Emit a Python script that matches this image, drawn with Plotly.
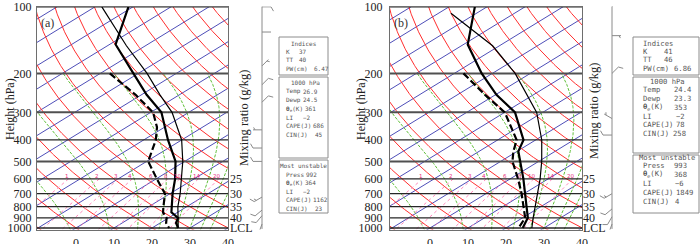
import numpy as np
import plotly.graph_objects as go

S = 95.0          # skew (degC per decade of pressure)
W, H = 700, 244
PXDEC = 221.5     # pixels per decade of pressure on the y axis

# ---------------- data : panel (a) ----------------
a_t_p  = [100, 148, 200, 250, 300, 400, 500, 600, 700, 800, 850, 900, 950, 1000]
a_t    = [-81.2, -68.4, -51.3, -38.6, -27.2, -13.6, -2.4, 5.0, 10.7, 16.0, 18.4, 22.5, 24.2, 26.9]
a_td_p = [200, 250, 300, 350, 400, 450, 500, 600, 700, 800, 850, 900, 950, 1000]
a_td   = [-57.5, -41.5, -29.4, -22.0, -16.8, -12.9, -9.6, 0.2, 8.7, 13.8, 16.2, 19.5, 21.6, 24.5]
a_pc_p = [100, 150, 200, 250, 300, 400, 500, 600, 700, 800, 900, 1000]
a_pc   = [-88.2, -65.0, -47.7, -35.1, -24.4, -10.0, -0.5, 6.7, 12.7, 17.6, 22.5, 26.9]
a_wp = [100, 130, 185, 225, 270, 360, 435, 500, 725, 830, 880, 960]
a_wd = [90, 90, 45, 45, 45, 270, 270, 270, 240, 230, 220, 200]
a_ws = [10, 0, 5, 10, 10, 5, 10, 10, 15, 10, 10, 5]

# ---------------- data : panel (b) ----------------
b_t_p  = [100, 148, 200, 250, 300, 400, 450, 500, 600, 700, 800, 900, 1000]
b_t    = [-83.2, -68.9, -52.8, -39.7, -27.3, -13.2, -9.7, -4.9, 3.5, 10.3, 16.2, 21.4, 24.4]
b_td_p = [200, 250, 300, 400, 450, 500, 600, 700, 800, 900, 1000]
b_td   = [-57.6, -42.7, -30.0, -15.0, -11.0, -6.9, 2.1, 9.4, 15.4, 20.7, 23.3]
b_pc_p = [107, 150, 200, 250, 300, 400, 500, 600, 700, 800, 900, 1000]
b_pc   = [-86.7, -61.8, -44.0, -31.7, -21.6, -8.4, 0.8, 7.9, 13.5, 18.4, 22.8, 26.8]
b_wp = [100, 135, 200, 320, 380, 700, 820, 890, 960]
b_wd = [45, 90, 45, 300, 270, 240, 230, 210, 200]
b_ws = [15, 5, 10, 5, 10, 15, 10, 10, 5]

# ---------------- background line sets ----------------
isotherms = list(range(-130, 50, 10))            # degC
dry_theta = list(range(-40, 200, 10))            # theta in degC (K - 273.15)
moist_thetae = [260, 280, 300, 320, 340, 360, 380, 400, 420]   # K
mix_vals = [1, 2, 3, 4, 6, 8, 10, 14, 20]        # g/kg

# ---------------- text ----------------
p_ticks = [100, 200, 300, 400, 500, 600, 700, 800, 900, 1000]
p_heavy = [200, 300, 500]
t_ticks = [0, 10, 20, 30, 40]
right_lbl_p = [600, 700, 800, 900, 1000]
right_lbl = ["25", "30", "35", "40", "LCL"]

TH = "<b>θ</b><sub>e</sub>(K)"
a_box1 = [("K", "37"), ("TT", "40"), ("PW(cm)", "6.47")]
a_box2 = [("Temp", "26.9"), ("Dewp", "24.5"), (TH, "361"), ("LI", "−2"), ("CAPE(J)", "686"), ("CIN(J)", "45")]
a_box3 = [("Press", "992"), (TH, "364"), ("LI", "−2"), ("CAPE(J)", "1162"), ("CIN(J)", "23")]
b_box1 = [("K", "41"), ("TT", "46"), ("PW(cm)", "6.86")]
b_box2 = [("Temp", "24.4"), ("Dewp", "23.3"), (TH, "353"), ("LI", "−2"), ("CAPE(J)", "78"), ("CIN(J)", "258")]
b_box3 = [("Press", "993"), (TH, "368"), ("LI", "−6"), ("CAPE(J)", "1849"), ("CIN(J)", "4")]

Rd, Cp, Lv, EPS = 287.04, 1005.7, 2.501e6, 0.622


def skx(T, p):
    return np.asarray(T, float) + S * np.log10(1000.0 / np.asarray(p, float))


def es(tc):
    return 6.112 * np.exp(17.67 * tc / (tc + 243.5))


def thetae(tc, p):
    tk = tc + 273.15
    e = es(tc)
    rs = EPS * e / (p - e)
    return tk * (1000.0 / p) ** 0.2857 * np.exp(Lv * rs / (Cp * tk))


def t_from_thetae(te):
    lo, hi = -80.0, 45.0
    for _ in range(60):
        mid = 0.5 * (lo + hi)
        if thetae(mid, 1000.0) > te:
            hi = mid
        else:
            lo = mid
    return 0.5 * (lo + hi)


def dtdp(T, p):
    e = es(T - 273.15)
    rs = EPS * e / (p - e)
    return (Rd * T + Lv * rs) / (p * (Cp + Lv * Lv * rs * EPS / (Rd * T * T)))


def rk(T, p, dp):
    k1 = dtdp(T, p); k2 = dtdp(T + 0.5 * dp * k1, p + 0.5 * dp)
    k3 = dtdp(T + 0.5 * dp * k2, p + 0.5 * dp); k4 = dtdp(T + dp * k3, p + dp)
    return T + dp * (k1 + 2 * k2 + 2 * k3 + k4) / 6


def moist(t0, p_end=200.0):
    T = t0 + 273.15
    p = 1000.0
    for _ in range(8):
        T = rk(T, p, 2.0); p += 2.0
    ps = np.geomspace(1016.0, p_end, 240)
    out = [T]
    for i in range(1, len(ps)):
        T = rk(T, ps[i - 1], ps[i] - ps[i - 1])
        out.append(T)
    return ps, np.array(out) - 273.15


fig = go.Figure()

panels = [
    dict(xa="x", ya="y", xb="x3",
         t=(a_t_p, a_t), td=(a_td_p, a_td), pc=(a_pc_p, a_pc),
         w=(a_wp, a_wd, a_ws), staff=262, lab="(a)", labx=40,
         boxx=(279, 328), boxes=[(37, 75), (77, 158), (160, 213)],
         bx=[a_box1, a_box2, a_box3], fs=6.0,
         labcol=284.5, valcol=[[298, 298, 313], [302, 302, 304, 302, 311.5, 314], [304.5, 304, 302, 311.5, 314]],
         rows=[[51, 59.5, 68], [91, 99.5, 108.5, 117, 125.5, 134], [174, 182.5, 191, 199.5, 208]],
         heads=[(304, 43, "Indices"), (305, 82, "1000 hPa"), (303.5, 165, "Most unstable")],
         htitle=10, mix=(244, 118), rlab=229),
    dict(xa="x2", ya="y2", xb="x4",
         t=(b_t_p, b_t), td=(b_td_p, b_td), pc=(b_pc_p, b_pc),
         w=(b_wp, b_wd, b_ws), staff=612, lab="(b)", labx=393,
         boxx=(633, 699), boxes=[(37, 75), (77, 153), (155, 213)],
         bx=[b_box1, b_box2, b_box3], fs=7.2,
         labcol=641.5, valcol=[[663, 663, 673], [673, 673, 673, 675, 675, 672], [673, 673, 674, 675, 674]],
         rows=[[51, 59.5, 68.5], [89.5, 98, 107, 116, 124.5, 133], [165, 174, 183, 192, 201]],
         heads=[(658, 43, "Indices"), (667, 81, "1000 hPa"), (666.5, 157, "Most unstable")],
         htitle=361, mix=(594, 111), rlab=582),
]

serif = "Liberation Serif"
pgrid = np.geomspace(90, 1100, 200)
moist_curves = [moist(t_from_thetae(te)) for te in moist_thetae]

for P in panels:
    xa, ya = P["xa"], P["ya"]
    # isotherms
    xs, ys = [], []
    for T in isotherms:
        xs += list(skx([T, T], [1100, 90])) + [None]
        ys += [1100, 90, None]
    fig.add_trace(go.Scatter(x=xs, y=ys, mode="lines", line=dict(color="#4e4eb8", width=1),
                             xaxis=xa, yaxis=ya, hoverinfo="skip", showlegend=False))
    # dry adiabats
    xs, ys = [], []
    for th0 in dry_theta:
        th = th0 + 273.15
        T = th * (pgrid / 1000.0) ** 0.2857 - 273.15
        xs += list(skx(T, pgrid)) + [None]
        ys += list(pgrid) + [None]
    fig.add_trace(go.Scatter(x=xs, y=ys, mode="lines", line=dict(color="#ff2e2e", width=1),
                             xaxis=xa, yaxis=ya, hoverinfo="skip", showlegend=False))
    # moist adiabats
    xs, ys = [], []
    for pp, TT in moist_curves:
        xs += list(skx(TT, pp)) + [None]
        ys += list(pp) + [None]
    fig.add_trace(go.Scatter(x=xs, y=ys, mode="lines",
                             line=dict(color="#5fbf38", width=1, dash="3px,1.5px"),
                             xaxis=xa, yaxis=ya, hoverinfo="skip", showlegend=False))
    # mixing ratio lines
    xs, ys = [], []
    pm = np.geomspace(600, 1016, 30)
    for w in mix_vals:
        e = w * pm / (622.0 + w)
        lg = np.log(e / 6.112)
        td = 243.5 * lg / (17.67 - lg)
        xs += list(skx(td, pm)) + [None]
        ys += list(pm) + [None]
    fig.add_trace(go.Scatter(x=xs, y=ys, mode="lines", line=dict(color="#ff88bb", width=1, dash="dot"),
                             xaxis=xa, yaxis=ya, hoverinfo="skip", showlegend=False))
    for w in mix_vals:
        e = w * 600 / (622.0 + w)
        lg = np.log(e / 6.112)
        td = 243.5 * lg / (17.67 - lg)
        fig.add_annotation(x=float(skx(td, 600)) - 0.5, y=np.log10(583), xref=xa, yref=ya, text=str(w),
                           showarrow=False, xanchor="center", borderpad=0,
                           font=dict(size=5.5, color="#e8287a", family="DejaVu Sans"))
    # pressure lines
    for heavy in (False, True):
        xs, ys = [], []
        for p in p_ticks:
            if (p in p_heavy) == heavy:
                xs += [-20, 50, None]
                ys += [p, p, None]
        fig.add_trace(go.Scatter(x=xs, y=ys, mode="lines",
                                 line=dict(color="#505050" if heavy else "#262626", width=2.0 if heavy else 1.3),
                                 xaxis=xa, yaxis=ya, hoverinfo="skip", showlegend=False))
    # profiles
    fig.add_trace(go.Scatter(x=skx(P["pc"][1], P["pc"][0]), y=P["pc"][0], mode="lines",
                             line=dict(color="black", width=1.2), xaxis=xa, yaxis=ya, showlegend=False))
    fig.add_trace(go.Scatter(x=skx(P["td"][1], P["td"][0]), y=P["td"][0], mode="lines",
                             line=dict(color="black", width=2.2, dash="7px,3px"), xaxis=xa, yaxis=ya,
                             showlegend=False))
    fig.add_trace(go.Scatter(x=skx(P["t"][1], P["t"][0]), y=P["t"][0], mode="lines",
                             line=dict(color="black", width=2.2), xaxis=xa, yaxis=ya, showlegend=False))

    # wind barbs (x in pixels on the barb axis, y in pressure)
    st = P["staff"]
    xs = [st, st, None]
    ys = [99.5, 1010, None]
    wp, wd, ws = P["w"]
    c60, s60 = np.cos(np.radians(60)), np.sin(np.radians(60))
    for p, d, s in zip(wp, wd, ws):
        r = np.radians(d)
        ux, uy = np.sin(r), -np.cos(r)
        L = 9.0

        def pt(dx, dy, p=p):
            return st + dx, p * 10 ** (dy / PXDEC)
        a = pt(0, 0); b = pt(L * ux, L * uy)
        xs += [a[0], b[0], None]; ys += [a[1], b[1], None]
        fx, fy = ux * c60 - uy * s60, ux * s60 + uy * c60
        pos = L
        n_full, half = int(s // 10), (s % 10) >= 5
        for i in range(n_full):
            bx_, by_ = pos * ux, pos * uy
            q0 = pt(bx_, by_); q1 = pt(bx_ + 5 * fx, by_ + 5 * fy)
            xs += [q0[0], q1[0], None]; ys += [q0[1], q1[1], None]
            pos -= 2.5
        if half:
            if n_full == 0:
                pos -= 2.0
            bx_, by_ = pos * ux, pos * uy
            q0 = pt(bx_, by_); q1 = pt(bx_ + 2.8 * fx, by_ + 2.8 * fy)
            xs += [q0[0], q1[0], None]; ys += [q0[1], q1[1], None]
    fig.add_trace(go.Scatter(x=xs, y=ys, mode="lines", line=dict(color="#8a8a8a", width=1),
                             xaxis=P["xb"], yaxis=ya, hoverinfo="skip", showlegend=False))

    # annotations
    fig.add_annotation(x=P["labx"] / W, y=1 - 15 / H, xref="paper", yref="paper", text=P["lab"],
                       showarrow=False, xanchor="left", borderpad=0,
                       font=dict(family=serif, size=12, color="#333"))
    fig.add_annotation(x=P["htitle"] / W, y=1 - 109 / H, xref="paper", yref="paper", text="Height (hPa)",
                       showarrow=False, textangle=-90, xanchor="center", yanchor="middle",
                       font=dict(family=serif, size=12, color="#222"))
    fig.add_annotation(x=P["mix"][0] / W, y=1 - P["mix"][1] / H, xref="paper", yref="paper",
                       text="Mixing ratio (g/kg)", showarrow=False, textangle=-90,
                       xanchor="center", yanchor="middle",
                       font=dict(family=serif, size=12.5, color="#222"))
    for p, t in zip(right_lbl_p, right_lbl):
        fig.add_annotation(x=P["rlab"] / W, y=np.log10(p), xref="paper", yref=ya, text=t,
                           showarrow=False, xanchor="left", yanchor="middle", borderpad=0,
                           font=dict(family=serif, size=12, color="#222"))
    bx0, bx1 = P["boxx"]
    for (y0, y1) in P["boxes"]:
        fig.add_shape(type="rect", xref="paper", yref="paper", x0=bx0 / W, x1=bx1 / W,
                      y0=1 - y1 / H, y1=1 - y0 / H, line=dict(color="#8c8c8c", width=1))
    bf = dict(family="DejaVu Sans Mono", size=P["fs"], color="#555")
    for (hx, hy, ht) in P["heads"]:
        fig.add_annotation(x=hx / W, y=1 - hy / H, xref="paper", yref="paper", text=ht,
                           showarrow=False, xanchor="center", yanchor="middle", borderpad=0, font=bf)
    for rows, vals, ylist in zip(P["bx"], P["valcol"], P["rows"]):
        for (lbl, v), vx, yy in zip(rows, vals, ylist):
            fig.add_annotation(x=P["labcol"] / W, y=1 - yy / H, xref="paper", yref="paper", text=lbl,
                               showarrow=False, xanchor="left", yanchor="middle", borderpad=0, font=bf)
            fig.add_annotation(x=vx / W, y=1 - yy / H, xref="paper", yref="paper", text=v,
                               showarrow=False, xanchor="left", yanchor="middle", borderpad=0, font=bf)

ytop, ybot = 6.5, 229.5
ydom = [(H - ybot) / H, (H - ytop) / H]
yr = [np.log10(1016.0), 1.9985]
common = dict(showgrid=False, zeroline=False, showline=True, linecolor="#6e6e6e", linewidth=1,
              mirror=True, automargin=False, tickfont=dict(family=serif, size=12, color="#222"))
fig.update_layout(
    width=W, height=H, margin=dict(l=0, r=0, t=0, b=0, autoexpand=False),
    paper_bgcolor="white", plot_bgcolor="white", showlegend=False,
    xaxis=dict(domain=[37 / W, 228 / W], range=[(37 - 76) / 3.8, (228 - 76) / 3.8], anchor="y",
               tickvals=t_ticks, ticks="", ticklabelstandoff=2, **common),
    yaxis=dict(domain=ydom, type="log", range=yr, anchor="x", tickvals=p_ticks,
               ticktext=[str(p) for p in p_ticks], ticks="outside", ticklen=2,
               tickcolor="rgba(0,0,0,0)", **common),
    xaxis2=dict(domain=[390 / W, 582 / W], range=[(390 - 430) / 3.8, (582 - 430) / 3.8], anchor="y2",
                tickvals=t_ticks, ticks="", ticklabelstandoff=2, **common),
    yaxis2=dict(domain=ydom, type="log", range=yr, anchor="x2", tickvals=p_ticks,
                ticktext=[str(p) for p in p_ticks], ticks="outside", ticklen=4,
                tickcolor="rgba(0,0,0,0)", **common),
    xaxis3=dict(domain=[245 / W, 285 / W], range=[245, 285], anchor="y", visible=False, automargin=False),
    xaxis4=dict(domain=[595 / W, 635 / W], range=[595, 635], anchor="y2", visible=False, automargin=False),
)
fig.write_html("out.html", config={"displayModeBar": False},
               post_script="document.body.style.margin='0px';document.body.style.overflow='hidden';")
